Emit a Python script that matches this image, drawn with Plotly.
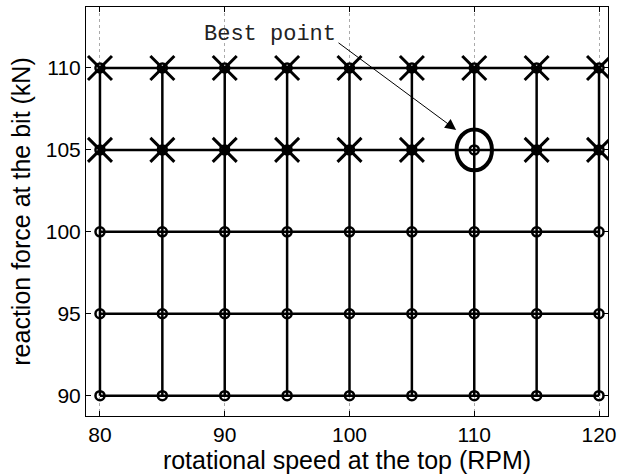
import plotly.graph_objects as go

# Data
speeds = [80, 85, 90, 95, 100, 105, 110, 115, 120]          # RPM
forces = [90, 95, 100, 105, 110]                             # kN
infeasible_speeds = [80, 85, 90, 95, 100, 105, 115, 120,
                     80, 85, 90, 95, 100, 105, 110, 115, 120]
infeasible_forces = [105, 105, 105, 105, 105, 105, 105, 105,
                     110, 110, 110, 110, 110, 110, 110, 110, 110]
best_speed = 110
best_force = 105
x_ticks = [80, 90, 100, 110, 120]
y_ticks = [90, 95, 100, 105, 110]

fig = go.Figure()

# grid lines (horizontal then vertical)
hx, hy = [], []
for f in forces:
    hx += speeds + [None]
    hy += [f] * len(speeds) + [None]
for s in speeds:
    hx += [s, s, None]
    hy += [forces[0], forces[-1], None]
fig.add_trace(go.Scatter(x=hx, y=hy, mode="lines",
                         line=dict(color="black", width=2.5),
                         hoverinfo="skip", showlegend=False))

# circles at every grid point
gx = [s for f in forces for s in speeds]
gy = [f for f in forces for s in speeds]
fig.add_trace(go.Scatter(x=gx, y=gy, mode="markers",
                         marker=dict(symbol="circle-open", size=9, color="black",
                                     line=dict(width=2.5, color="black")),
                         showlegend=False))

# crosses
fig.add_trace(go.Scatter(x=infeasible_speeds, y=infeasible_forces, mode="markers",
                         marker=dict(symbol="x-thin-open", size=24, color="black",
                                     line=dict(width=3, color="black")),
                         showlegend=False))

# best point ellipse
fig.add_shape(type="circle", xref="x", yref="y",
              x0=best_speed - 1.42, x1=best_speed + 1.42,
              y0=best_force - 1.25, y1=best_force + 1.25,
              line=dict(color="black", width=4))

# arrow
fig.add_annotation(x=best_speed - 1.45, y=best_force + 1.22,
                   ax=best_speed - 11.0, ay=best_force + 6.6,
                   xref="x", yref="y", axref="x", ayref="y",
                   text="", showarrow=True, arrowhead=2, arrowsize=2.2,
                   arrowwidth=1, arrowcolor="black")
fig.add_annotation(x=best_speed - 16.36, y=best_force + 7.02,
                   xref="x", yref="y", text="Best point", showarrow=False,
                   font=dict(family="Courier New, Liberation Mono, monospace",
                             size=22, color="#222222"))

axis_common = dict(showline=True, linecolor="black", linewidth=1, mirror="ticks",
                   ticks="inside", ticklen=5, tickcolor="black",
                   showgrid=True, gridcolor="#aaaaaa", griddash="dot", gridwidth=1,
                   zeroline=False, automargin=False,
                   tickfont=dict(family="Liberation Sans, Arial", size=21, color="black"),
                   title_font=dict(family="Liberation Sans, Arial", size=25, color="black"))

fig.update_xaxes(range=[78.88, 120.72], tickvals=x_ticks,
                 title_text="rotational speed at the top (RPM)", title_standoff=2,
                 **axis_common)
fig.update_yaxes(range=[88.76, 113.72], tickvals=y_ticks,
                 title_text="reaction force at the bit (kN)", title_standoff=8,
                 **axis_common)
fig.update_yaxes(showgrid=False)

fig.update_layout(width=633, height=475,
                  margin=dict(l=86, r=25, t=7, b=59, autoexpand=False),
                  plot_bgcolor="white", paper_bgcolor="white")

fig.write_html("out.html", config={"displayModeBar": False},
               post_script="document.body.style.margin='0';document.body.style.overflow='hidden';")
